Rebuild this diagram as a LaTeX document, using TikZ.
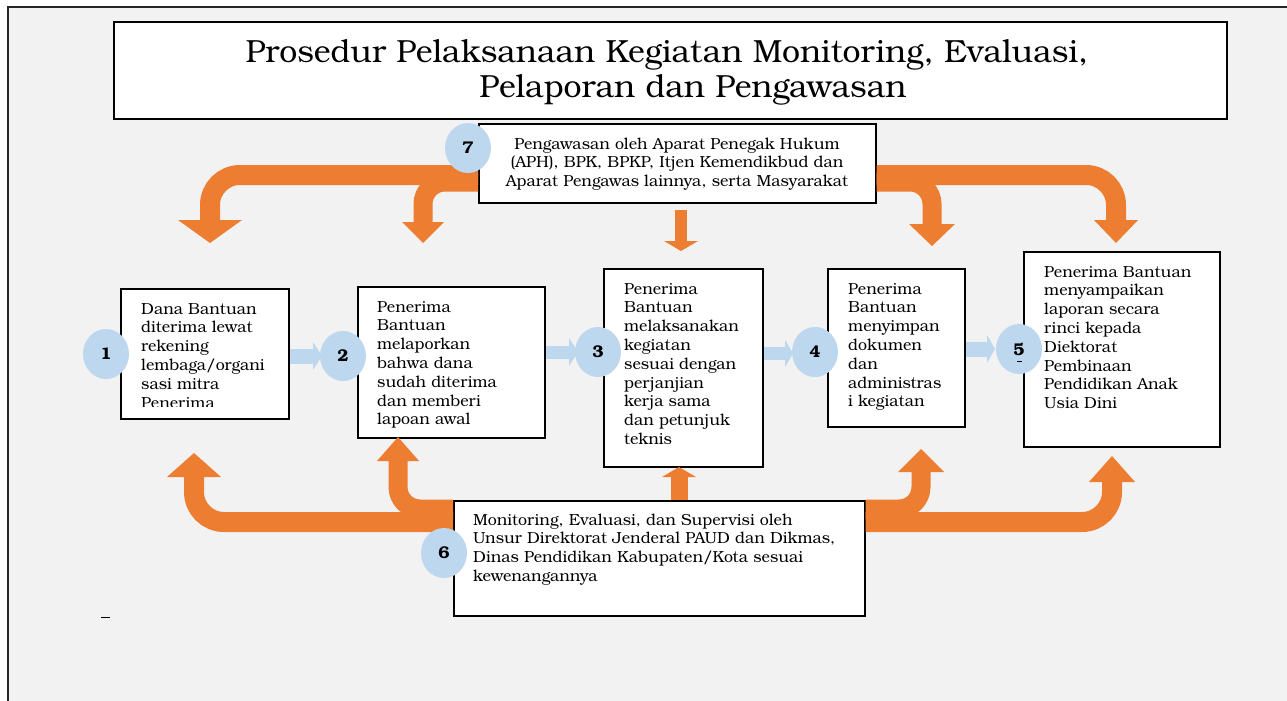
\documentclass[tikz,border=0pt]{standalone}
\usepackage{fontspec}
\setmainfont{texgyrebonum}[Extension=.otf, UprightFont=*-regular, BoldFont=*-bold, ItalicFont=*-italic, BoldItalicFont=*-bolditalic]
\usetikzlibrary{shapes.geometric,calc}
\definecolor{orangec}{HTML}{ED7D31}
\definecolor{bluec}{HTML}{BDD7EE}
\definecolor{bgc}{HTML}{F2F2F2}
\newcommand\bodyfont{\fontsize{16pt}{18.8pt}\selectfont}
\newcommand\ohead[3]{\fill[orangec] ($(#1)+(-#2,0)$) -- ($(#1)+(#2,0)$) -- ($(#1)+(0,#3)$) -- cycle;}
\newcommand\bhead[3]{\fill[bluec] ($(#1)+(0,-#2)$) -- ($(#1)+(0,#2)$) -- ($(#1)+(#3,0)$) -- cycle;}
\begin{document}
\begin{tikzpicture}[x=1pt,y=-1pt,
 box/.style={draw=black, line width=1.6pt, fill=white, inner sep=0, anchor=north west},
 num/.style={ellipse, fill=bluec, inner sep=0, minimum width=46pt, minimum height=50pt, font=\bfseries\fontsize{17pt}{17pt}\selectfont},
 txt/.style={inner sep=0, anchor=base west},
 band/.style={draw=orangec, line width=20pt, rounded corners=30pt},
 iband/.style={draw=orangec, line width=19pt, rounded corners=22pt},
 bshaft/.style={draw=bluec, line width=14pt},
 oshaft/.style={draw=orangec},
]
\useasboundingbox (0,0) rectangle (1287,701);
% background and frame
\fill[bgc] (8,7) rectangle (1300,720);
\draw[line width=1.4pt, black!85] (8,720) -- (8,7) -- (1300,7);

% boxes
\node[box, minimum width=1113pt, minimum height=97pt] (title) at (113,21) {};
\node[box, minimum width=397pt, minimum height=79pt] (b7) at (478,123) {};
\node[box, minimum width=168pt, minimum height=130pt] (b1) at (120,288) {};
\node[box, minimum width=187pt, minimum height=151pt] (b2) at (357,286) {};
\node[box, minimum width=159pt, minimum height=198pt] (b3) at (603,268) {};
\node[box, minimum width=137pt, minimum height=158pt] (b4) at (827,268) {};
\node[box, minimum width=196pt, minimum height=195pt] (b5) at (1023,251) {};
\node[box, minimum width=411pt, minimum height=115pt] (b6) at (453,500) {};

% orange arrows from box 7
\draw[band] (b7.west |- 0,175) -- (210,175) -- (210,221);
\ohead{210,220}{32}{23}
\draw[iband] (b7.west |- 0,182) -- (423,182) -- (423,223);
\ohead{423,222}{21}{21}
\draw[iband] (b7.east |- 0,182) -- (932,182) -- (932,225);
\ohead{932,224}{23}{22}
\draw[band] (b7.east |- 0,175) -- (1116,175) -- (1116,221);
\ohead{1116,220}{22}{23}
\draw[oshaft, line width=12pt] (681,210) -- (681,242);
\ohead{681,241}{17}{10}

% orange arrows from box 6
\draw[band] (b6.west |- 0,522) -- (194,522) -- (194,476);
\ohead{194,477}{27}{-24}
\draw[iband] (b6.west |- 0,509) -- (398,509) -- (398,460);
\ohead{398,461}{21}{-24}
\draw[iband] (b6.east |- 0,509) -- (921,509) -- (921,471);
\ohead{921,472}{23}{-23}
\draw[band] (b6.east |- 0,522) -- (1112,522) -- (1112,481);
\ohead{1112,482}{23}{-26}
\draw[oshaft, line width=17pt] (679,500) -- (679,476);
\ohead{679,477}{17}{-10}

% blue arrows
\draw[bshaft, line width=15pt] (b1.east |- 0,356) -- (314,356);
\bhead{313,356}{14}{9}
\draw[bshaft, line width=13pt] (b2.east |- 0,352) -- (570,352);
\bhead{569,352}{14}{9}
\draw[bshaft, line width=13pt] (b3.east |- 0,353.5) -- (786,353.5);
\bhead{785,353.5}{13.5}{8}
\draw[bshaft, line width=15pt] (b4.east |- 0,349) -- (988,349);
\bhead{987,349}{14}{8}

% texts
\node[inner sep=0, anchor=base] (titletext) at (667,63) {\parbox[t]{1000pt}{\centering\fontsize{32pt}{35pt}\selectfont Prosedur Pelaksanaan Kegiatan Monitoring, Evaluasi,\\ \hspace*{52pt}Pelaporan dan Pengawasan}};
\node[inner sep=0, anchor=base] (t7) at (677,149) {\parbox[t]{400pt}{\centering\bodyfont Pengawasan oleh Aparat Penegak Hukum\\(APH), BPK, BPKP, Itjen Kemendikbud dan\\Aparat Pengawas lainnya, serta Masyarakat}};
\begin{scope}
\clip (120,288) rectangle (288,406);
\node[txt] (t1) at (141,314) {\parbox[t]{160pt}{\raggedright\bodyfont Dana Bantuan\\diterima lewat\\rekening\\lembaga/organi\\sasi mitra\\Penerima}};
\end{scope}
\node[txt] (t2) at (377,312) {\parbox[t]{170pt}{\raggedright\bodyfont Penerima\\Bantuan\\melaporkan\\bahwa dana\\sudah diterima\\dan memberi\\lapoan awal}};
\node[txt] (t3) at (624,294) {\parbox[t]{150pt}{\raggedright\bodyfont Penerima\\Bantuan\\melaksanakan\\kegiatan\\sesuai dengan\\perjanjian\\kerja sama\\dan petunjuk\\teknis}};
\node[txt] (t4) at (848,294) {\parbox[t]{130pt}{\raggedright\bodyfont Penerima\\Bantuan\\menyimpan\\dokumen\\dan\\administras\\i kegiatan}};
\node[txt] (t5) at (1044,277) {\parbox[t]{180pt}{\raggedright\bodyfont Penerima Bantuan\\menyampaikan\\laporan secara\\rinci kepada\\Diektorat\\Pembinaan\\Pendidikan Anak\\Usia Dini}};
\node[txt] (t6) at (473,525) {\parbox[t]{390pt}{\raggedright\bodyfont Monitoring, Evaluasi, dan Supervisi oleh\\Unsur Direktorat Jenderal PAUD dan Dikmas,\\Dinas Pendidikan Kabupaten/Kota sesuai\\kewenangannya}};

% number circles
\node[num] (c1) at (106,354) {1};
\node[num] (c2) at (343,356) {2};
\node[num] (c3) at (598,352) {3};
\node[num] (c4) at (815,352) {4};
\node[num] (c5) at (1019,349) {5};
\node[num] (c6) at (444,553) {6};
\node[num] (c7) at (468,148) {7};
\fill[black] ($(c5)+(-2.5,11.5)$) rectangle ($(c5)+(2.5,12.6)$);
\fill[black] (101,616.5) rectangle (110,618.3);
\end{tikzpicture}
\end{document}
